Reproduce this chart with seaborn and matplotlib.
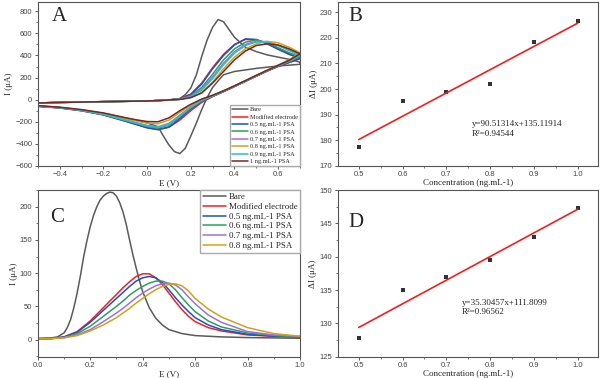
import pandas as pd
import matplotlib
matplotlib.use("Agg")
import matplotlib.pyplot as plt
from matplotlib.ticker import AutoMinorLocator, MultipleLocator
import seaborn as sns

# ---------------- data ----------------
# Panel A: cyclic voltammograms (forward scan then reverse scan)
cv_bare_e_fwd = [-0.5, -0.4, -0.3, -0.2, -0.1, 0.0, 0.1, 0.15, 0.175, 0.2, 0.225, 0.25,
                 0.275, 0.3, 0.325, 0.35, 0.375, 0.4, 0.45, 0.5, 0.55, 0.6, 0.65, 0.7]
cv_bare_fwd = [-30, -25, -22, -18, -15, -12, -5, 10, 45, 105, 220, 390,
               540, 655, 725, 705, 635, 565, 475, 435, 405, 385, 365, 340]
cv_bare_e_rev = [0.7, 0.6, 0.5, 0.4, 0.35, 0.325, 0.3, 0.275, 0.25, 0.225, 0.2, 0.175,
                 0.15, 0.125, 0.1, 0.075, 0.05, 0.0, -0.1, -0.2, -0.3, -0.4, -0.5]
cv_bare_rev = [320, 305, 283, 255, 225, 170, 110, 20, -90, -215, -330, -440,
               -488, -470, -410, -330, -245, -210, -165, -125, -95, -72, -58]

cv_e_fwd = [-0.5, -0.4, -0.3, -0.2, -0.1, 0.0, 0.05, 0.1, 0.15, 0.2, 0.25, 0.3,
            0.35, 0.4, 0.45, 0.5, 0.55, 0.6, 0.65, 0.7]
cv_e_rev = [0.7, 0.65, 0.6, 0.55, 0.5, 0.45, 0.4, 0.35, 0.3, 0.25, 0.2, 0.15,
            0.1, 0.05, 0.0, -0.05, -0.1, -0.2, -0.3, -0.4, -0.5]

cv_mod_fwd = [-30, -25, -22, -18, -15, -12, -8, -2, 10, 50, 150, 290, 410, 500, 545, 540, 510, 465, 415, 370]
cv_mod_rev = [370, 335, 300, 258, 212, 165, 118, 72, 28, -25, -100, -185, -250, -270, -252, -222, -192, -137, -100, -75, -60]
cv_05_fwd = [-30, -25, -22, -18, -15, -12, -8, -2, 8, 45, 140, 280, 400, 495, 550, 545, 505, 455, 410, 375]
cv_05_rev = [375, 338, 302, 260, 214, 166, 120, 74, 30, -15, -85, -170, -248, -272, -255, -225, -195, -138, -100, -75, -60]
cv_06_fwd = [-30, -25, -22, -18, -15, -12, -8, -3, 5, 35, 110, 230, 360, 460, 520, 540, 515, 470, 425, 388]
cv_06_rev = [388, 345, 306, 262, 216, 168, 121, 75, 32, -10, -75, -155, -232, -258, -243, -215, -188, -134, -98, -73, -58]
cv_07_fwd = [-30, -25, -22, -18, -15, -12, -8, -3, 4, 30, 95, 205, 330, 435, 500, 528, 525, 492, 448, 405]
cv_07_rev = [405, 352, 309, 264, 218, 170, 123, 77, 35, -5, -65, -140, -215, -245, -233, -208, -182, -131, -96, -72, -57]
cv_08_fwd = [-30, -25, -22, -18, -15, -12, -8, -3, 2, 20, 65, 160, 280, 385, 460, 505, 528, 515, 475, 425]
cv_08_rev = [425, 360, 313, 267, 221, 173, 126, 80, 38, 2, -50, -115, -185, -218, -212, -192, -170, -124, -92, -70, -55]
cv_09_fwd = [-30, -25, -22, -18, -15, -12, -8, -3, 3, 25, 85, 190, 315, 420, 490, 522, 520, 490, 445, 400]
cv_09_rev = [400, 350, 308, 263, 217, 169, 122, 76, 34, -7, -70, -148, -225, -250, -238, -212, -185, -132, -97, -72, -57]
cv_10_fwd = [-30, -25, -22, -18, -15, -12, -8, -3, 2, 18, 60, 150, 255, 360, 440, 490, 505, 495, 460, 415]
cv_10_rev = [415, 356, 311, 266, 220, 172, 125, 80, 40, 5, -42, -100, -165, -200, -198, -182, -163, -120, -90, -68, -54]

cv_labels = ["Bare", "Modified electrode", "0.5 ng.mL-1 PSA", "0.6 ng.mL-1 PSA",
             "0.7 ng.mL-1 PSA", "0.8 ng.mL-1 PSA", "0.9 ng.mL-1 PSA", "1 ng.mL-1 PSA"]

# Panel C: differential pulse voltammograms
dpv_bare_e = [0.0, 0.05, 0.075, 0.1, 0.1125, 0.125, 0.1375, 0.15, 0.1625, 0.175, 0.1875,
              0.2, 0.2125, 0.225, 0.2375, 0.25, 0.2625, 0.275, 0.2875, 0.3, 0.3125, 0.325,
              0.3375, 0.35, 0.3625, 0.375, 0.3875, 0.4, 0.425, 0.45, 0.475, 0.5, 0.55, 0.6,
              0.7, 0.8, 0.9, 1.0]
dpv_bare = [2, 2.5, 4, 10, 18, 30, 48, 70, 96, 125, 149,
            170, 187, 200, 210, 216, 220, 222, 221, 216, 206, 192,
            173, 150, 128, 108, 89, 72, 48, 32, 22, 15, 9, 6,
            4, 3, 2.5, 2]
dpv_e = [0.0, 0.05, 0.1, 0.15, 0.2, 0.25, 0.3, 0.325, 0.35, 0.375, 0.4, 0.425,
         0.45, 0.475, 0.5, 0.525, 0.55, 0.575, 0.6, 0.65, 0.7, 0.8, 0.9, 1.0]
dpv_mod = [1, 1.5, 4, 12, 28, 48, 68, 78, 87, 95, 99, 99, 93, 83, 70, 57, 45, 35, 27, 18, 13, 7, 5, 4]
dpv_05 = [1, 1.5, 4, 11, 26, 44, 62, 71, 80, 88, 93, 95, 93, 86, 75, 63, 52, 42, 33, 22, 15, 8, 5, 4]
dpv_06 = [1, 1.5, 3, 9, 20, 35, 50, 58, 67, 74, 80, 85, 88, 88, 84, 75, 63, 52, 42, 28, 19, 10, 6, 4]
dpv_07 = [1, 1.5, 3, 7, 15, 27, 40, 47, 55, 63, 70, 76, 81, 84, 85, 82, 75, 64, 54, 37, 26, 12, 7, 5]
dpv_08 = [1, 1.5, 2.5, 6, 13, 22, 33, 40, 47, 55, 62, 69, 75, 80, 83, 84, 81, 73, 62, 46, 34, 18, 9, 5]
dpv_labels = cv_labels[:6]

# Panels B and D: calibration points
conc = [0.5, 0.6, 0.7, 0.8, 0.9, 1.0]
delta_cv = [177.2, 195.5, 198.8, 201.8, 218.2, 226.5]
delta_dpv = [127.8, 135.0, 137.0, 139.5, 143.0, 147.3]
eq_cv = "y=90.51314x+135.11914\nR²=0.94544"
eq_dpv = "y=35.30457x+111.8099\nR²=0.96562"

colors = ["#5a5a5a", "#ff1a1a", "#1f4fc8", "#2aa060", "#a070d8", "#d4a017", "#22c4c4", "#7b2424"]

# ---------------- build tables ----------------
cv_fwd = [cv_mod_fwd, cv_05_fwd, cv_06_fwd, cv_07_fwd, cv_08_fwd, cv_09_fwd, cv_10_fwd]
cv_rev = [cv_mod_rev, cv_05_rev, cv_06_rev, cv_07_rev, cv_08_rev, cv_09_rev, cv_10_rev]
rows = []
for e, i in zip(cv_bare_e_fwd + cv_bare_e_rev, cv_bare_fwd + cv_bare_rev):
    rows.append((cv_labels[0], e, i))
for lab, f, r in zip(cv_labels[1:], cv_fwd, cv_rev):
    for e, i in zip(cv_e_fwd + cv_e_rev, f + r):
        rows.append((lab, e, i))
df_cv = pd.DataFrame(rows, columns=["series", "E", "I"])

rows = [(dpv_labels[0], e, i) for e, i in zip(dpv_bare_e, dpv_bare)]
for lab, vals in zip(dpv_labels[1:], [dpv_mod, dpv_05, dpv_06, dpv_07, dpv_08]):
    rows += [(lab, e, i) for e, i in zip(dpv_e, vals)]
df_dpv = pd.DataFrame(rows, columns=["series", "E", "I"])

df_cal = pd.DataFrame({"conc": conc, "cv": delta_cv, "dpv": delta_dpv})

# ---------------- style ----------------
sns.set_style("ticks")
plt.rcParams["font.family"] = ["Liberation Serif", "DejaVu Serif"]
plt.rcParams["axes.edgecolor"] = "#555555"
plt.rcParams["axes.linewidth"] = 0.8
plt.rcParams["lines.solid_joinstyle"] = "round"

fig = plt.figure(figsize=(6, 3.78), dpi=100)
axA = fig.add_axes([0.063, 0.561, 0.437, 0.434])
axB = fig.add_axes([0.563, 0.561, 0.434, 0.434])
axC = fig.add_axes([0.063, 0.056, 0.437, 0.441])
axD = fig.add_axes([0.563, 0.056, 0.434, 0.441])


def dress(ax, xlabel, ylabel):
    ax.set_xlabel(xlabel, fontsize=6.5, labelpad=0.5)
    ax.set_ylabel(ylabel, fontsize=6.5, labelpad=1.5)
    ax.xaxis.set_minor_locator(AutoMinorLocator(2))
    ax.yaxis.set_minor_locator(AutoMinorLocator(2))
    ax.tick_params(which="major", labelsize=5.5, length=2.5, width=0.6, pad=1.5,
                   colors="#444444", labelfontfamily="Liberation Sans")
    ax.tick_params(which="minor", length=1.5, width=0.5, colors="#444444")
    for s in ax.spines.values():
        s.set_visible(True)


# A: CV
sns.lineplot(data=df_cv, x="E", y="I", hue="series", hue_order=cv_labels, palette=colors,
             sort=False, estimator=None, linewidth=1.1, ax=axA)
axA.set_xlim(-0.5, 0.7)
axA.set_ylim(-600, 885)
axA.xaxis.set_major_locator(MultipleLocator(0.2))
axA.yaxis.set_major_locator(MultipleLocator(200))
dress(axA, "E (V)", "I (μA)")
h, l = axA.get_legend_handles_labels()
axA.legend(h, l, loc="lower right", borderaxespad=0, fontsize=4.5, handlelength=2.6,
           labelspacing=0.32, handletextpad=0.3, borderpad=0.3, fancybox=False,
           edgecolor="#aaaaaa", framealpha=1)
axA.text(0.053, 0.91, "A", transform=axA.transAxes, fontsize=15, va="center")

# C: DPV
sns.lineplot(data=df_dpv, x="E", y="I", hue="series", hue_order=dpv_labels, palette=colors[:6],
             sort=False, estimator=None, linewidth=1.1, ax=axC)
axC.set_xlim(0, 1.0)
axC.set_ylim(-26, 225)
axC.xaxis.set_major_locator(MultipleLocator(0.2))
axC.yaxis.set_major_locator(MultipleLocator(50))
dress(axC, "E (V)", "I (μA)")
h, l = axC.get_legend_handles_labels()
axC.legend(h, l, loc="upper right", borderaxespad=0, fontsize=6.4, handlelength=2.6,
           labelspacing=0.18, handletextpad=0.3, borderpad=0.3, fancybox=False,
           edgecolor="#aaaaaa", framealpha=1)
axC.text(0.046, 0.835, "C", transform=axC.transAxes, fontsize=15, va="center")

# B and D: calibration
for ax, col, ylim, step, eq, pos, letter, ly in [
        (axB, "cv", (170, 234), 10, eq_cv, (0.758, 184.5), "B", 0.91),
        (axD, "dpv", (125, 150), 5, eq_dpv, (0.735, 132.4), "D", 0.805)]:
    sns.regplot(data=df_cal, x="conc", y=col, ci=None, ax=ax, marker="s",
                scatter_kws={"color": "black", "s": 12, "linewidths": 0},
                line_kws={"color": "#ff1a1a", "linewidth": 1.2})
    ax.set_xlim(0.452, 1.047)
    ax.set_ylim(*ylim)
    ax.xaxis.set_major_locator(MultipleLocator(0.1))
    ax.yaxis.set_major_locator(MultipleLocator(step))
    dress(ax, "Concentration (ng.mL-1)", "ΔI (μA)")
    ax.text(pos[0], pos[1], eq, fontsize=6.5, va="center", ha="left", linespacing=1.3)
    ax.text(0.042, ly, letter, transform=ax.transAxes, fontsize=15, va="center")

fig.savefig("out.png", dpi=100)
